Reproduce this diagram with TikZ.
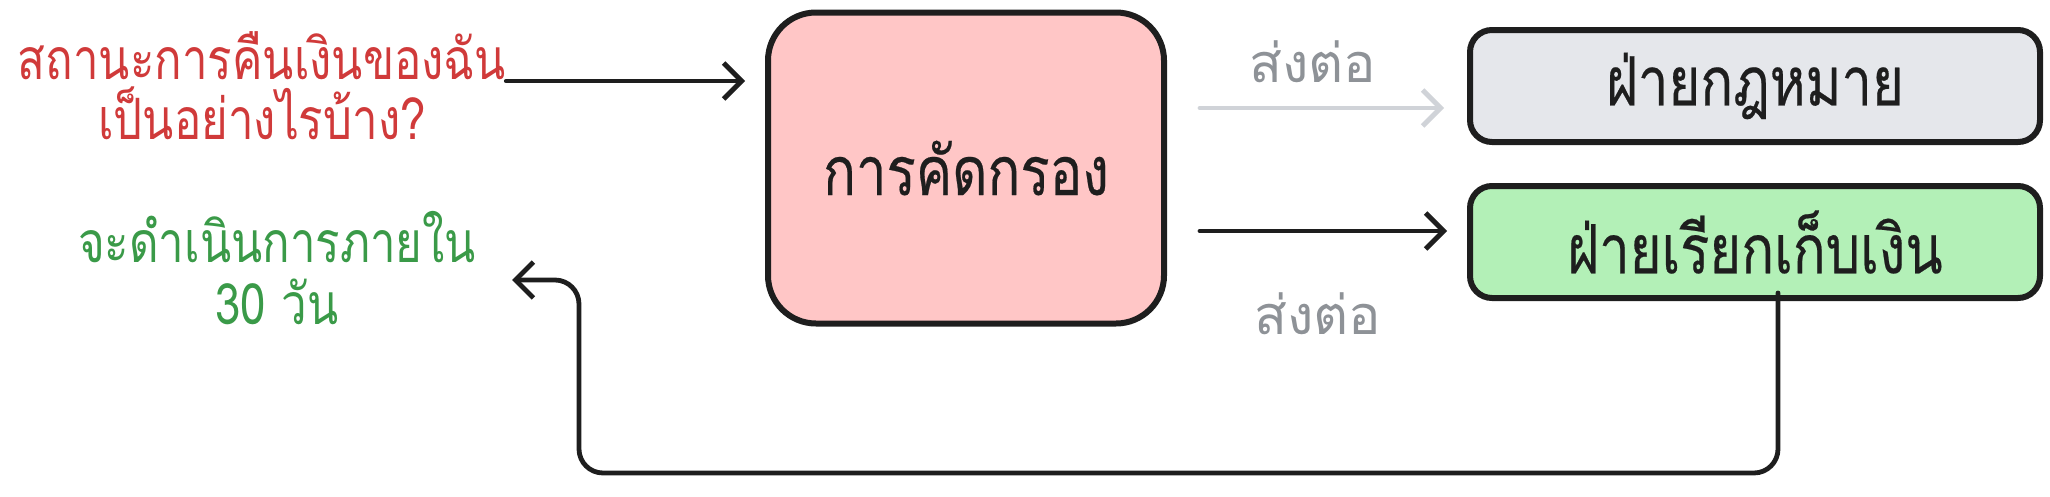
\documentclass[tikz,border=0pt]{standalone}
\usepackage{fontspec}
\newfontfamily\thai[Script=Thai]{Loma}
\newfontfamily\thaic[Script=Thai, FakeStretch=0.8]{Loma}
\newfontfamily\thaib[Script=Thai, FakeStretch=0.8, FakeBold=0.3]{Loma}
\usetikzlibrary{arrows.meta}
\definecolor{pinkfill}{HTML}{FFC6C6}
\definecolor{grayfill}{HTML}{E5E7EB}
\definecolor{greenfill}{HTML}{B3F0B7}
\definecolor{redtxt}{HTML}{D03A3A}
\definecolor{greentxt}{HTML}{3A9A48}
\definecolor{graytxt}{HTML}{8E9297}
\definecolor{grayarrow}{HTML}{D0D3D8}
\definecolor{ink}{HTML}{1E1E1E}
\begin{document}
\begin{tikzpicture}[x=1pt,y=-1pt,
  box/.style={draw=ink, line width=6pt, inner sep=0pt, font=\thaib\fontsize{68}{80}\selectfont, text=ink},
  arr/.style={draw=ink, line width=4.8pt, line cap=round, line join=round, -{Straight Barb[length=18pt,width=36pt]}},
  lbl/.style={inner sep=0pt, align=center},
]
\useasboundingbox (0,0) rectangle (2050,496);
\node[box, fill=pinkfill, minimum width=396pt, minimum height=311pt, rounded corners=48pt] (pink) at (966,168) {การคัดกรอง};
\node[box, fill=grayfill, minimum width=570pt, minimum height=112pt, rounded corners=22pt] (law) at (1755,86) {ฝ่ายกฎหมาย};
\node[box, fill=greenfill, minimum width=570pt, minimum height=112pt, rounded corners=22pt] (bill) at (1755,242) {ฝ่ายเรียกเก็บเงิน};
\node[lbl, text=redtxt, font=\thaic\fontsize{57}{60}\selectfont] (q) at (262,86) {สถานะการคืนเงินของฉัน\\เป็นอย่างไรบ้าง?};
\node[lbl, text=greentxt, font=\thaic\fontsize{57}{62}\selectfont] (a) at (277,268) {จะดำเนินการภายใน\\30 วัน};
\node[lbl, text=graytxt, font=\thai\fontsize{54}{60}\selectfont] (s1) at (1313,62) {ส่งต่อ};
\node[lbl, text=graytxt, font=\thai\fontsize{54}{60}\selectfont] (s2) at (1318,314) {ส่งต่อ};
\coordinate (tip) at (512,280);
\draw[arr] (q.east |- 0,81) -- ([xshift=-20pt]pink.west |- 0,81);
\draw[arr, draw=grayarrow] ([xshift=33pt]pink.east |- 0,108) -- ([xshift=-23pt]law.west |- 0,108);
\draw[arr] ([xshift=33pt]pink.east |- 0,231) -- ([xshift=-20pt]bill.west |- 0,231);
\draw[arr, rounded corners=24pt] ([xshift=23pt,yshift=8pt]bill.south) |- (579,473) -- (579,280) -- (tip);
\end{tikzpicture}
\end{document}
